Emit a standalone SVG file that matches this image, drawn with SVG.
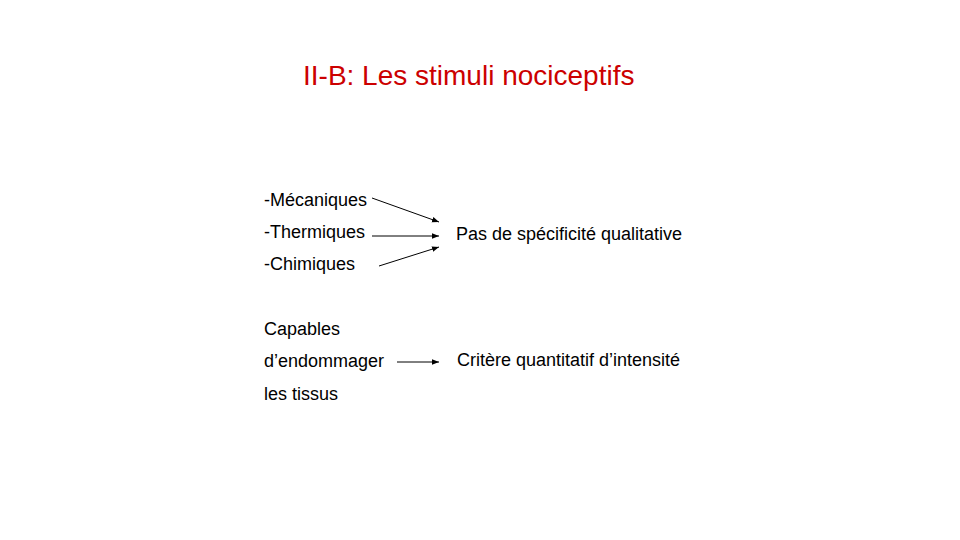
<svg xmlns="http://www.w3.org/2000/svg" width="960" height="540" viewBox="0 0 960 540">
  <style>
    .title { font-family: "Liberation Sans", Arial, sans-serif; font-size: 28px; fill: #CC0000; }
    .label { font-family: "Liberation Sans", Arial, sans-serif; font-size: 18px; fill: #000000; }
    .conn { stroke: #000000; stroke-width: 1; fill: none; marker-end: url(#arrow); }
  </style>
  <defs>
    <marker id="arrow" viewBox="0 0 10 10" refX="10" refY="5" markerWidth="7" markerHeight="7" markerUnits="userSpaceOnUse" orient="auto">
      <path d="M0,1 L10,5 L0,9 z" fill="#000000"/>
    </marker>
  </defs>
  <rect width="960" height="540" fill="#FFFFFF"/>

  <text class="title" x="303" y="85">II-B: Les stimuli nociceptifs</text>

  <g id="stimuli">
    <text class="label" x="264" y="206">-Mécaniques</text>
    <text class="label" x="264" y="238">-Thermiques</text>
    <text class="label" x="264" y="270">-Chimiques</text>
  </g>

  <g id="qualitatif">
    <text class="label" x="456" y="240">Pas de spécificité qualitative</text>
  </g>

  <g id="capables">
    <text class="label" x="264" y="335">Capables</text>
    <text class="label" x="264" y="367">d’endommager</text>
    <text class="label" x="264" y="400">les tissus</text>
  </g>

  <g id="quantitatif">
    <text class="label" x="457" y="366">Critère quantitatif d’intensité</text>
  </g>

  <g id="connectors">
    <line class="conn" x1="372" y1="198" x2="439" y2="222"/>
    <line class="conn" x1="372" y1="236" x2="439" y2="236"/>
    <line class="conn" x1="379" y1="266" x2="439" y2="247"/>
    <line class="conn" x1="397" y1="362" x2="439" y2="362"/>
  </g>
</svg>
